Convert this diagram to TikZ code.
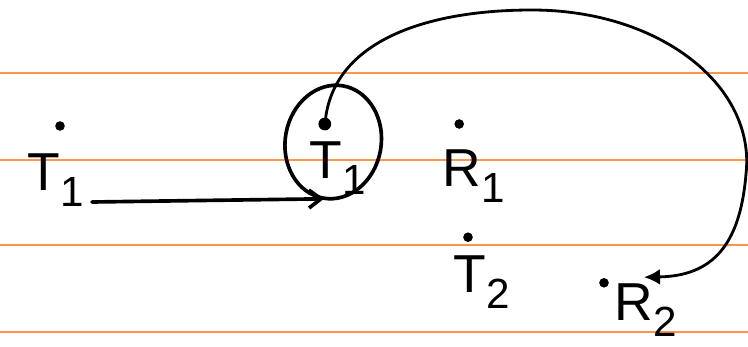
\documentclass[tikz,border=0pt]{standalone}
\usepackage{fontspec}
\setmainfont{Liberation Sans}
\usetikzlibrary{arrows.meta,positioning,shapes.geometric}
\newcommand\lbltext[2]{#1\raisebox{-0.3em}{\fontsize{30}{30}\selectfont #2}}
\begin{document}
\begin{tikzpicture}[
paperline/.style = {draw=orange!80!red!70, line width=1.2pt},
  dotnode/.style = {circle, fill, inner sep=0pt, minimum size=2.4mm},
  lblnode/.style = {font=\fontsize{38}{38}\selectfont, inner sep=0pt},
     pen/.style = {line width=2.6pt, line cap=round}
                ]
\useasboundingbox (0,0) rectangle (18.7,8.65);
%% paper lines
\foreach \y in {6.825,4.65,2.525,0.35}
    \draw[paperline] (0,\y) -- (18.7,\y);

\node (t1) [dotnode] at (1.5,5.5) {};
\node (t1l) [lblnode] at (1.4,4.15) {\lbltext{T}{1}};
\node (t1n) [dotnode, minimum size=3.2mm] at (8.12,5.55) {};
\node (t1nl) [lblnode] at (8.45,4.45) {\lbltext{T}{1}};
\node (ring) [draw, pen, ellipse, minimum width=2.4cm, minimum height=2.85cm,
              rotate=-10] at (8.33,5.1) {};
\node (r1) [dotnode] at (11.48,5.55) {};
\node (r1l) [lblnode] at (11.85,4.25) {\lbltext{R}{1}};
\node (t2) [dotnode] at (11.7,2.72) {};
\node (t2l) [lblnode] at (12.05,1.6) {\lbltext{T}{2}};
\node (r2) [dotnode] at (15.1,1.58) {};
\node (r2l) [lblnode] at (16.15,0.9) {\lbltext{R}{2}};
\coordinate (start) at (2.3,3.6);
\coordinate (tip) at (8.1,3.68);
\coordinate (r2end) at (16.1,1.72);

\draw[pen, -{Straight Barb[length=3mm,width=4.5mm]}] (start) -- (tip);
\draw[pen, line width=2pt, -{Latex[length=4mm,width=4mm]}]
    (t1n) .. controls (8.4,7.6) and (10.6,8.4) .. (13.3,8.4)
          .. controls (16.5,8.4) and (18.9,6.5) .. (18.65,4.3)
          .. controls (18.5,2.5) and (17.8,1.75) .. (r2end);
%%
\end{tikzpicture}
\end{document}
